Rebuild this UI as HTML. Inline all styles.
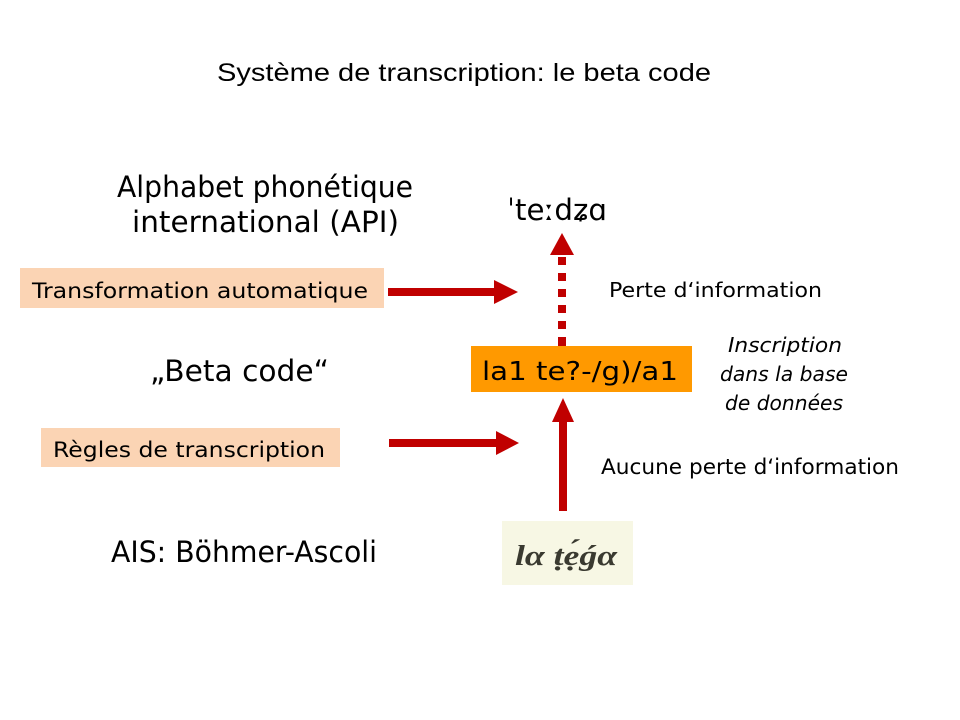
<!DOCTYPE html>
<html><head><meta charset="utf-8">
<style>
html,body{margin:0;padding:0;background:#fff;}
svg{display:block;}
.t{font-family:"DejaVu Sans","Liberation Sans",sans-serif;fill:#000;}
</style></head>
<body>
<svg width="960" height="720" viewBox="0 0 960 720" xmlns="http://www.w3.org/2000/svg">
<rect width="960" height="720" fill="#fff"/>
<!-- title -->
<text x="217" y="81" font-family="Liberation Sans, sans-serif" font-size="25" textLength="494" lengthAdjust="spacingAndGlyphs">Système de transcription: le beta code</text>

<!-- left labels -->
<text class="t" x="117" y="197" font-size="29" textLength="296" lengthAdjust="spacingAndGlyphs">Alphabet phonétique</text>
<text class="t" x="132" y="232" font-size="29" textLength="267" lengthAdjust="spacingAndGlyphs">international (API)</text>

<rect x="20" y="268" width="364" height="40" fill="#fbd4b4"/>
<text class="t" x="32" y="298" font-size="21" textLength="336" lengthAdjust="spacingAndGlyphs">Transformation automatique</text>

<text class="t" x="150" y="381" font-size="29" textLength="179" lengthAdjust="spacingAndGlyphs">„Beta code“</text>

<rect x="41" y="428" width="299" height="39" fill="#fbd4b4"/>
<text class="t" x="53" y="457" font-size="21" textLength="272" lengthAdjust="spacingAndGlyphs">Règles de transcription</text>

<text class="t" x="111" y="562" font-size="29" textLength="266" lengthAdjust="spacingAndGlyphs">AIS: Böhmer-Ascoli</text>

<!-- horizontal arrows -->
<rect x="388" y="288" width="108" height="8" fill="#c00000"/>
<polygon points="494,280 518,292 494,304" fill="#c00000"/>
<rect x="389" y="439" width="108" height="8" fill="#c00000"/>
<polygon points="496,431 519,443 496,455" fill="#c00000"/>

<!-- IPA -->
<text class="t" x="507" y="220" font-size="29" textLength="100" lengthAdjust="spacingAndGlyphs">ˈteːdʑɑ</text>

<!-- dashed arrow -->
<polygon points="562,233 574,255 550,255" fill="#c00000"/>
<rect x="558" y="257" width="8" height="8" fill="#c00000"/>
<rect x="558" y="273" width="8" height="8" fill="#c00000"/>
<rect x="558" y="289" width="8" height="8" fill="#c00000"/>
<rect x="558" y="305" width="8" height="8" fill="#c00000"/>
<rect x="558" y="321" width="8" height="8" fill="#c00000"/>
<rect x="558" y="337" width="8" height="9" fill="#c00000"/>

<text class="t" x="609" y="297" font-size="20" textLength="213" lengthAdjust="spacingAndGlyphs">Perte d‘information</text>

<!-- orange box -->
<rect x="471" y="346" width="221" height="46" fill="#ff9900"/>
<text class="t" x="482" y="380" font-size="26" textLength="196" lengthAdjust="spacingAndGlyphs">la1 te?-/g)/a1</text>

<!-- italic -->
<text class="t" x="728" y="352" font-size="20" font-style="italic" textLength="114" lengthAdjust="spacingAndGlyphs">Inscription</text>
<text class="t" x="720" y="381" font-size="20" font-style="italic" textLength="128" lengthAdjust="spacingAndGlyphs">dans la base</text>
<text class="t" x="725" y="410" font-size="20" font-style="italic" textLength="118" lengthAdjust="spacingAndGlyphs">de données</text>

<!-- solid up arrow -->
<polygon points="563,398 574,422 552,422" fill="#c00000"/>
<rect x="559" y="421" width="8" height="90" fill="#c00000"/>

<text class="t" x="601" y="474" font-size="21" textLength="298" lengthAdjust="spacingAndGlyphs">Aucune perte d‘information</text>

<!-- image -->
<rect x="502" y="521" width="131" height="64" fill="#f7f7e4"/>
<text x="515" y="565" font-family="Liberation Serif, serif" font-size="28" font-style="italic" font-weight="bold" fill="#3a3a30" textLength="102" lengthAdjust="spacingAndGlyphs">lα ṭẹ́ǵα</text>
</svg>
</body></html>
